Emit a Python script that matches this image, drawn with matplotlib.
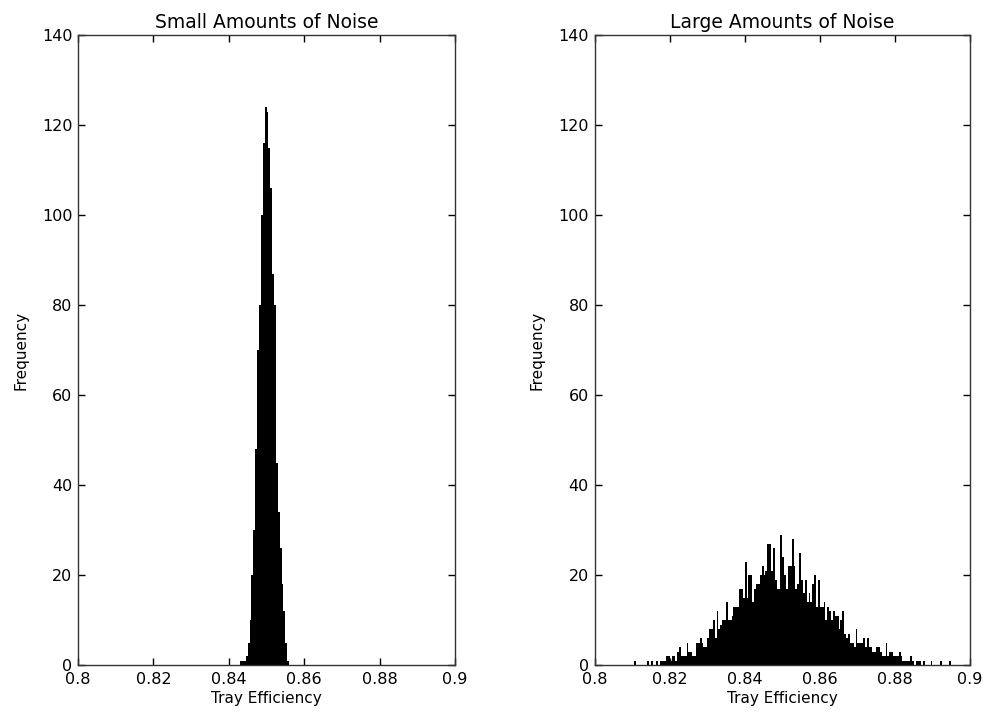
import numpy as np
import matplotlib
matplotlib.use("Agg")
from matplotlib import pyplot as plt

# histogram counts (bin width 0.0005)
bin_width = 0.0005

small_start = 0.8430
small_counts = [1, 1, 1, 2, 5, 10, 20, 30, 48, 70, 80, 100, 116, 124, 123,
                115, 106, 87, 80, 45, 34, 26, 18, 12, 5, 1]

large_start = 0.8105
large_counts = [1, 0, 0, 0, 0, 0, 0, 1, 0, 1, 0, 0, 1, 0, 1, 1, 1, 2, 2, 1,
                2, 2, 1, 3, 4, 2, 2, 2, 5, 3, 3, 2, 2, 5, 5, 6, 5, 4, 4, 6,
                8, 8, 10, 6, 12, 8, 9, 10, 10, 14, 10, 10, 11, 13, 13, 13, 17, 17, 15, 23,
                15, 20, 20, 14, 17, 18, 18, 20, 22, 20, 21, 27, 27, 21, 26, 19, 17, 17, 29, 24,
                20, 17, 22, 22, 28, 22, 17, 18, 25, 19, 16, 19, 14, 16, 14, 18, 20, 13, 19, 13,
                13, 14, 10, 13, 12, 10, 12, 11, 11, 8, 10, 12, 7, 6, 7, 5, 5, 4, 8, 5,
                5, 5, 6, 4, 6, 4, 4, 3, 3, 4, 4, 3, 2, 2, 5, 2, 3, 3, 2, 2,
                2, 3, 2, 1, 1, 1, 1, 2, 1, 0, 1, 1, 1, 0, 1, 0, 0, 0, 1, 0,
                0, 0, 0, 1, 0, 0, 0, 0, 1]

titles = ["Small Amounts of Noise", "Large Amounts of Noise"]
x_ticks = [0.8, 0.82, 0.84, 0.86, 0.88, 0.9]
x_labels = ["0.8", "0.82", "0.84", "0.86", "0.88", "0.9"]
y_ticks = [0, 20, 40, 60, 80, 100, 120, 140]

fig = plt.figure(figsize=(9.84, 7.18), dpi=100)
ax1 = fig.add_axes([0.0793, 0.0738, 0.3831, 0.8774])
ax2 = fig.add_axes([0.6042, 0.0738, 0.3816, 0.8774])

data = [(small_start, small_counts), (large_start, large_counts)]

for ax, title, (start, counts) in zip([ax1, ax2], titles, data):
    counts = np.array(counts)
    centers = start + bin_width * (np.arange(len(counts)) + 0.5)
    ax.bar(centers, counts, width=bin_width, color="black", linewidth=0)
    ax.set_xlim(0.8, 0.9)
    ax.set_ylim(0, 140)
    ax.set_xticks(x_ticks)
    ax.set_xticklabels(x_labels)
    ax.set_yticks(y_ticks)
    ax.tick_params(direction="in", length=5, width=1, top=True, right=True,
                   labelsize=11.5, colors="black")
    ax.tick_params(axis="x", pad=5)
    ax.tick_params(axis="y", pad=4)
    for s in ax.spines.values():
        s.set_linewidth(1)
        s.set_color("#333333")
    ax.set_title(title, fontsize=13.5, pad=5)
    ax.set_xlabel("Tray Efficiency", fontsize=11, labelpad=3)
    ax.set_ylabel("Frequency", fontsize=11, labelpad=10)

fig.savefig("out.png", dpi=100)
